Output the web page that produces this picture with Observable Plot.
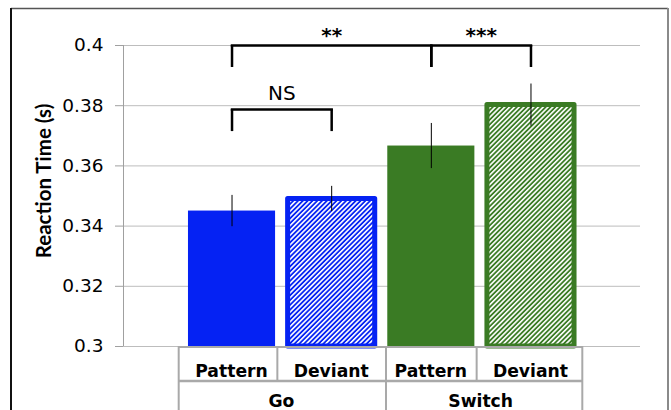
<!DOCTYPE html>
<html><head><meta charset="utf-8">
<script src="https://cdn.jsdelivr.net/npm/d3@7"></script>
<script src="https://cdn.jsdelivr.net/npm/@observablehq/plot@0.6"></script>
<style>body{margin:0;background:#fff;} svg{display:block}</style>
</head><body><div id="chart"></div>
<script>
// ---- data ----
const conditions = ["Go", "Go", "Switch", "Switch"];
const trialTypes = ["Pattern", "Deviant", "Pattern", "Deviant"];
const meanRT = [0.345, 0.349, 0.3666, 0.3802];
const errorRT = [0.0052, 0.0042, 0.0075, 0.0070];
const yTicks = [0.3, 0.32, 0.34, 0.36, 0.38, 0.4];
const yTickLabels = ["0.3", "0.32", "0.34", "0.36", "0.38", "0.4"];
const yLabel = "Reaction Time (s)";
const sigLabels = ["NS", "**", "***"];
const sigFrom = [0, 0, 2];
const sigTo = [1, 2, 3];
const sigLevel = [0.3787, 0.4, 0.4];
const sigLegEnd = [0.3714, 0.3927, 0.3927];

// ---- styling ----
const condColor = {Go: "#0522f3", Switch: "#3a7b24"};
const xDomain = [-1.089, 4.099];
const barHalf = 0.437;
const idx = d3.range(meanRT.length);
const sigIdx = d3.range(sigLabels.length);

function tableMark(index, scales, values, dims) {
  const x = scales.x, y0 = scales.y(0.3);
  const g = d3.create("svg:g");
  const H = dims.height, rowH = 35;
  const lc = "#a9a9a9";
  const left = i => x(i - 0.5), right = i => x(i + 0.5);
  // outer figure border
  g.append("line").attr("x1", 11).attr("x2", 668).attr("y1", 8.5).attr("y2", 8.5).attr("stroke", "#555").attr("stroke-width", 1.5);
  g.append("line").attr("x1", 11).attr("x2", 11).attr("y1", 8).attr("y2", H).attr("stroke", "#111").attr("stroke-width", 2);
  g.append("line").attr("x1", 668).attr("x2", 668).attr("y1", 8).attr("y2", H).attr("stroke", "#8a8a8a").attr("stroke-width", 2);
  const x0 = left(0) - 3, x1 = right(idx.length - 1) + 2;
  g.append("line").attr("x1", x0).attr("x2", x1).attr("y1", y0 + 1).attr("y2", y0 + 1).attr("stroke", lc).attr("stroke-width", 2);
  g.append("line").attr("x1", x0).attr("x2", x1).attr("y1", y0 + rowH).attr("y2", y0 + rowH).attr("stroke", lc).attr("stroke-width", 2.5);
  idx.forEach(i => {
    const isGroupStart = i === 0 || conditions[i] !== conditions[i - 1];
    const xl = i === 0 ? x0 : left(i) + (isGroupStart ? 5 : -4);
    g.append("line").attr("x1", xl).attr("x2", xl).attr("y1", y0).attr("y2", isGroupStart ? H : y0 + rowH).attr("stroke", lc).attr("stroke-width", 2);
    g.append("text").attr("x", x(i)).attr("y", y0 + 31).attr("text-anchor", "middle")
      .attr("font-family", "DejaVu Sans").attr("font-weight", "bold").attr("font-size", 17.2).text(trialTypes[i]);
  });
  g.append("line").attr("x1", x1).attr("x2", x1).attr("y1", y0).attr("y2", H).attr("stroke", lc).attr("stroke-width", 2);
  const groups = Array.from(new Set(conditions));
  groups.forEach(c => {
    const ii = idx.filter(i => conditions[i] === c);
    g.append("text").attr("x", x(d3.mean(ii))).attr("y", y0 + 61).attr("text-anchor", "middle")
      .attr("font-family", "DejaVu Sans").attr("font-weight", "bold").attr("font-size", 17.2).text(c);
  });
  return g.node();
}

const plot = Plot.plot({
  width: 671, height: 410,
  marginLeft: 123, marginRight: 31, marginTop: 45, marginBottom: 64,
  x: {domain: xDomain, axis: null},
  y: {domain: [0.3, 0.4], axis: null},
  color: {type: "identity"},
  style: {fontFamily: "DejaVu Sans", background: "white", overflow: "visible"},
  marks: [
    Plot.ruleY(yTicks, {stroke: "#bdbdbd", strokeWidth: 1}),
    Plot.ruleX([xDomain[0]], {y1: 0.3, y2: 0.4, stroke: "#a0a0a0"}),
    Plot.axisY(yTicks, {tickSize: 8, tickPadding: 12, stroke: "#a0a0a0", fill: "black", fontSize: 18.5,
      tickFormat: d => yTickLabels[yTicks.indexOf(d)]}),
    Plot.text([yLabel], {frameAnchor: "left", textAnchor: "middle", rotate: -90, dx: -79, dy: -15, fontFamily: "Lato", fontWeight: "bold", fontSize: 20.5}),
    Plot.rectY(idx.filter(i => trialTypes[i] === "Pattern"), {
      x1: i => i - barHalf, x2: i => i + barHalf, y1: 0.3, y2: i => meanRT[i],
      fill: i => condColor[conditions[i]]}),
    Plot.rectY(idx.filter(i => trialTypes[i] === "Deviant"), {
      x1: i => i - barHalf, x2: i => i + barHalf, y1: 0.3, y2: i => meanRT[i],
      fill: i => `url(#hatch-${conditions[i]})`, stroke: i => condColor[conditions[i]], strokeWidth: 5, strokeLinejoin: "round"}),
    Plot.ruleX(idx, {x: i => i, y1: i => meanRT[i] - errorRT[i], y2: i => meanRT[i] + errorRT[i], stroke: "black", strokeWidth: 1}),
    Plot.link(sigIdx, {x1: i => sigFrom[i], x2: i => sigTo[i], y1: i => sigLevel[i], y2: i => sigLevel[i], stroke: "black", strokeWidth: 2.5, strokeLinecap: "square"}),
    Plot.ruleX(sigIdx, {x: i => sigFrom[i], y1: i => sigLevel[i], y2: i => sigLegEnd[i], stroke: "black", strokeWidth: 2.5}),
    Plot.ruleX(sigIdx, {x: i => sigTo[i], y1: i => sigLevel[i], y2: i => sigLegEnd[i], stroke: "black", strokeWidth: 2.5}),
    Plot.text(sigIdx.filter(i => sigLabels[i] === "NS"), {x: i => (sigFrom[i] + sigTo[i]) / 2, y: i => sigLevel[i], text: i => sigLabels[i], dy: -16, fontSize: 20, fill: "black"}),
    Plot.text(sigIdx.filter(i => sigLabels[i] !== "NS"), {x: i => (sigFrom[i] + sigTo[i]) / 2, y: i => sigLevel[i], text: i => sigLabels[i], dy: -10, fontSize: 20, fontWeight: "bold", fill: "black"}),
    tableMark
  ]
});

const defs = d3.select(plot).insert("defs", ":first-child");
Object.entries(condColor).forEach(([c, col]) => {
  const p = defs.append("pattern").attr("id", `hatch-${c}`).attr("patternUnits", "userSpaceOnUse")
    .attr("width", 3.4).attr("height", 3.4).attr("patternTransform", "rotate(45)");
  p.append("rect").attr("width", 3.4).attr("height", 3.4).attr("fill", col);
  p.append("rect").attr("x", 0).attr("width", 1.6).attr("height", 3.4).attr("fill", "white");
});
document.getElementById("chart").appendChild(plot);
</script>
</body></html>
